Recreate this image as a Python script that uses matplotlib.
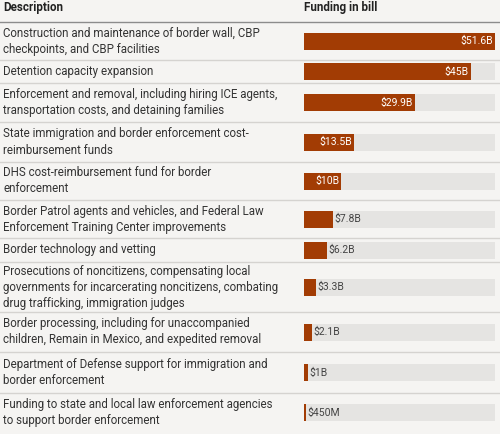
import matplotlib.pyplot as plt

descriptions = [
    "Construction and maintenance of border wall, CBP\ncheckpoints, and CBP facilities",
    "Detention capacity expansion",
    "Enforcement and removal, including hiring ICE agents,\ntransportation costs, and detaining families",
    "State immigration and border enforcement cost-\nreimbursement funds",
    "DHS cost-reimbursement fund for border\nenforcement",
    "Border Patrol agents and vehicles, and Federal Law\nEnforcement Training Center improvements",
    "Border technology and vetting",
    "Prosecutions of noncitizens, compensating local\ngovernments for incarcerating noncitizens, combating\ndrug trafficking, immigration judges",
    "Border processing, including for unaccompanied\nchildren, Remain in Mexico, and expedited removal",
    "Department of Defense support for immigration and\nborder enforcement",
    "Funding to state and local law enforcement agencies\nto support border enforcement",
]
funding = [51.6, 45, 29.9, 13.5, 10, 7.8, 6.2, 3.3, 2.1, 1, 0.45]
labels = ["$51.6B", "$45B", "$29.9B", "$13.5B", "$10B", "$7.8B", "$6.2B",
          "$3.3B", "$2.1B", "$1B", "$450M"]

# row boundaries in pixels (layout)
rules = [22, 60, 83, 122, 162, 200, 238, 262, 312, 352, 393, 432]

bg = '#f5f4f2'
bar_color = '#a23c04'
track_color = '#e5e4e2'
text_color = '#333333'

W, H = 500, 434
fig = plt.figure(figsize=(W / 100, H / 100), dpi=100, facecolor=bg)

# full-figure axes in pixel coords for text and rules
ax = fig.add_axes([0, 0, 1, 1])
ax.set_xlim(0, W)
ax.set_ylim(H, 0)
ax.axis('off')

# bar axes
x0, x1 = 304, 495
axb = fig.add_axes([x0 / W, 0, (x1 - x0) / W, 1])
axb.set_xlim(0, max(funding))
axb.set_ylim(H, 0)
axb.axis('off')
axb.patch.set_alpha(0)

ax.text(3, 8, "Description", fontsize=8.4, fontweight='bold', color='#222222',
        va='center', ha='left', family='Roboto')
ax.text(x0, 8, "Funding in bill", fontsize=8.4, fontweight='bold', color='#222222',
        va='center', ha='left', family='Roboto')
ax.axhline(rules[0], color='#8c8c8c', lw=1)

centers = []
for i, d in enumerate(descriptions):
    c = (rules[i] + rules[i + 1]) / 2
    centers.append(c)
    ax.text(3, c, d, fontsize=8.3, color=text_color, va='center', ha='left',
            linespacing=1.3, family='Roboto')
    if i < len(descriptions) - 1:
        ax.axhline(rules[i + 1], color='#d5d3d0', lw=1)

axb.barh(centers, [max(funding)] * len(funding), height=17, color=track_color)
axb.barh(centers, funding, height=17, color=bar_color)
for c, v, lab in zip(centers, funding, labels):
    if v >= 10:
        axb.text(v - 0.5, c, lab, color='white', fontsize=7.5, va='center',
                 ha='right', family='Roboto')
    else:
        axb.text(v + 0.4, c, lab, color='#444444', fontsize=7.5, va='center',
                 ha='left', family='Roboto')

fig.savefig('out.png', dpi=100, facecolor=bg)
